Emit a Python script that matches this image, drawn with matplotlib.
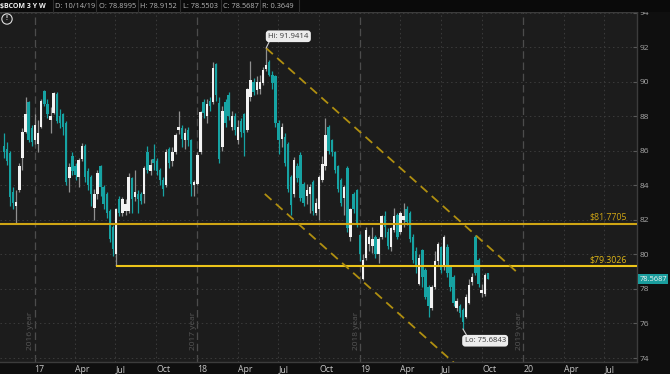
import matplotlib
matplotlib.use("Agg")
import matplotlib.pyplot as plt
import matplotlib.dates as mdates
import matplotlib.transforms as mtransforms
import pandas as pd
import numpy as np

plt.rcParams['font.family'] = ['Open Sans', 'DejaVu Sans']

# ---------------- data (weekly $BCOM candles) ----------------
first_week = '2016-10-24'
opens = [86.3, 86.1, 85.85, 83.6, 82.8, 83.7, 85.6, 87.1, 88.8, 87.3,
         86.6, 86.4, 87.4, 89.45, 88.7, 87.8, 88.2, 89.3, 88.0, 88.1,
         87.6, 84.4, 85.7, 85.1, 84.5, 85.5, 86.3, 84.8, 84.5, 82.7,
         83.5, 85.1, 83.9, 83.5, 82.5, 81.6, 80.0, 83.2, 82.4, 82.5,
         82.5, 84.4, 83.3, 83.5, 83.5, 83.5, 85.9, 84.8, 85.5, 85.4,
         84.9, 84.3, 84.0, 86.1, 85.4, 85.95, 87.2, 87.3, 86.6, 87.2,
         86.6, 84.0, 84.1, 85.95, 88.8, 88.0, 88.9, 88.8, 91.0, 88.75,
         86.2, 88.8, 89.2, 87.4, 88.0, 86.6, 87.7, 88.1, 87.2, 89.1,
         90.0, 89.5, 89.6, 89.9, 90.75, 91.15, 90.4, 90.3, 87.6, 86.7,
         86.8, 86.4, 84.5, 83.5, 85.1, 85.75, 84.1, 83.4, 83.5, 84.2,
         82.4, 82.6, 84.3, 85.1, 87.4, 86.6, 85.9, 85.1, 84.3, 83.25,
         85.0, 81.0, 83.5, 83.7, 81.1, 78.6, 79.8, 80.6, 80.5, 81.0,
         80.0, 81.0, 82.2, 81.3, 80.4, 81.4, 82.3, 81.3, 82.0, 82.6,
         82.4, 81.0, 80.2, 78.3, 80.25, 79.1, 78.1, 76.9, 78.1, 79.6,
         80.4, 79.3, 80.45, 79.3, 78.7, 76.9, 77.0, 76.8, 76.4, 77.2,
         78.4, 81.0, 79.65, 77.75, 77.7, 78.8995]
highs = [87.0, 86.5, 86.0, 83.9, 83.7, 85.3, 87.3, 89.1, 88.9, 87.5,
         88.1, 87.8, 89.0, 89.5, 89.0, 88.55, 89.4, 89.4, 88.4, 88.2,
         87.7, 85.3, 85.9, 85.3, 85.6, 86.45, 86.4, 85.0, 84.6, 83.8,
         84.9, 85.2, 84.0, 83.6, 82.6, 81.7, 82.7, 83.4, 83.3, 83.2,
         84.7, 84.5, 84.9, 83.7, 83.6, 85.1, 86.3, 85.5, 86.4, 85.6,
         85.0, 84.5, 86.1, 86.2, 86.2, 87.0, 88.3, 87.5, 87.3, 87.4,
         86.7, 84.3, 85.9, 88.3, 89.0, 89.0, 89.1, 91.15, 91.1, 89.1,
         88.6, 89.0, 89.4, 88.3, 88.2, 87.8, 87.9, 88.2, 89.65, 91.2,
         90.2, 90.3, 90.4, 90.85, 91.9414, 91.25, 90.6, 90.4, 87.8, 87.6,
         87.0, 86.5, 84.6, 85.65, 85.3, 85.9, 84.2, 84.1, 84.1, 84.3,
         83.25, 84.6, 85.7, 87.9, 87.5, 86.7, 86.0, 85.2, 84.4, 84.0,
         85.1, 82.7, 83.6, 83.8, 81.2, 80.0, 81.6, 81.1, 81.6, 81.1,
         81.0, 82.3, 82.5, 81.5, 81.6, 82.7, 82.4, 82.5, 83.0, 82.8,
         82.5, 81.2, 80.4, 80.0, 80.3, 79.2, 78.2, 78.2, 80.2, 80.7,
         80.5, 81.1, 80.6, 79.4, 78.8, 77.5, 77.1, 76.9, 77.7, 78.6,
         78.9, 81.1, 79.8, 78.3, 78.9, 78.9152]
lows = [85.6, 85.2, 82.8, 82.6, 81.8, 83.6, 84.9, 87.0, 86.5, 86.3,
        86.4, 85.9, 87.3, 88.6, 87.9, 87.0, 88.1, 87.6, 87.3, 86.9,
        84.0, 83.6, 84.6, 84.3, 83.9, 85.4, 84.2, 83.7, 82.8, 82.0,
        83.2, 83.4, 82.6, 82.1, 80.7, 79.9, 79.3026, 82.2, 82.2, 82.3,
        82.4, 82.4, 83.1, 82.4, 82.9, 82.95, 84.7, 84.6, 84.9, 84.6,
        84.0, 83.4, 83.9, 85.0, 85.1, 85.8, 86.95, 86.2, 86.1, 86.3,
        83.4, 83.4, 84.0, 85.8, 87.9, 87.6, 88.3, 88.7, 88.9, 85.3,
        86.0, 87.4, 87.8, 87.2, 86.9, 86.4, 86.8, 85.7, 87.1, 88.9,
        89.2, 89.3, 89.3, 89.8, 90.6, 90.3, 89.6, 87.4, 85.8, 86.2,
        85.1, 83.6, 82.3, 83.3, 84.2, 83.1, 82.8, 82.9, 82.4, 82.3,
        82.3, 82.0, 84.2, 84.9, 85.8, 85.7, 84.7, 83.6, 82.8, 82.3,
        81.3, 80.8, 82.4, 81.6, 79.6, 78.5, 79.7, 80.2, 80.1, 79.8,
        79.5, 80.9, 81.0, 80.3, 80.2, 81.3, 80.9, 81.2, 81.6, 81.7,
        80.7, 79.5, 78.9, 78.2, 78.1, 77.4, 76.4, 76.8, 78.0, 79.4,
        78.9, 79.1, 78.7, 77.9, 77.0, 76.7, 76.4, 75.6843, 76.3, 77.1,
        78.2, 78.8, 78.1, 77.55, 77.6, 78.5503]
closes = [85.95, 85.4, 83.35, 82.95, 83.05, 85.1, 87.1, 88.15, 86.6, 86.5,
          87.5, 87.0, 88.9, 88.7, 88.1, 88.0, 89.35, 87.7, 87.6, 87.4,
          84.2, 85.05, 84.8, 84.6, 85.45, 86.3, 84.5, 84.0, 83.5, 83.5,
          84.7, 83.9, 82.9, 82.4, 80.9, 80.3, 82.6, 82.4, 83.2, 82.9,
          84.5, 83.2, 83.6, 83.2, 83.1, 85.0, 84.9, 85.2, 85.3, 84.8,
          84.3, 83.8, 85.95, 85.3, 85.9, 86.9, 87.4, 86.7, 87.0, 86.6,
          84.1, 84.2, 85.75, 88.25, 88.2, 88.7, 88.6, 90.8, 89.2, 85.5,
          88.3, 87.6, 88.0, 88.0, 87.2, 87.4, 87.1, 87.0, 89.6, 90.1,
          89.4, 90.0, 90.0, 90.65, 90.95, 90.4, 89.9, 87.6, 86.6, 87.4,
          85.3, 83.8, 82.85, 85.45, 84.4, 83.25, 82.95, 83.7, 83.9, 82.5,
          83.0, 84.5, 85.25, 86.9, 86.0, 85.9, 84.9, 83.8, 82.95, 83.9,
          81.5, 82.6, 82.6, 81.8, 80.0, 79.7, 81.4, 81.0, 80.9, 80.0,
          80.9, 82.2, 81.6, 80.5, 81.5, 82.2, 81.0, 82.4, 82.2, 81.9,
          80.9, 79.7, 79.3, 79.8, 78.7, 77.55, 77.0, 78.1, 79.6, 80.6,
          79.1, 81.0, 78.9, 78.1, 77.2, 77.3, 76.6, 76.1, 77.55, 78.2,
          78.7, 78.9, 78.3, 77.95, 78.8, 78.5687]

hi_index, lo_index = 84, 147
hi_value, lo_value = 91.9414, 75.6843
support_level = 81.7705
support2_level = 79.3026
support2_start = 36
channel_upper_dates = ['2018-06-04', '2019-12-23']
channel_upper_prices = [91.94, 78.86]
channel_lower_dates = ['2018-06-01', '2019-08-12']
channel_lower_prices = [83.5, 73.42]
last_price = 78.5687
y_ticks = [74, 76, 78, 80, 82, 84, 86, 88, 90, 92, 94]
month_ticks = ['2017-01-01', '2017-04-01', '2017-07-01', '2017-10-01',
               '2018-01-01', '2018-04-01', '2018-07-01', '2018-10-01',
               '2019-01-01', '2019-04-01', '2019-07-01', '2019-10-01',
               '2020-01-01', '2020-04-01', '2020-07-01']
month_labels = ['17', 'Apr', 'Jul', 'Oct', '18', 'Apr', 'Jul', 'Oct',
                '19', 'Apr', 'Jul', 'Oct', '20', 'Apr', 'Jul']
year_lines = ['2017-01-01', '2018-01-01', '2019-01-01', '2020-01-01']
year_labels = ['2016 year', '2017 year', '2018 year', '2019 year']
header_title = '$BCOM 3 Y W'
header_fields = ['D: 10/14/19', 'O: 78.8995', 'H: 78.9152', 'L: 78.5503',
                 'C: 78.5687', 'R: 0.3649']

# ---------------- figure ----------------
W, H = 670, 374
fig = plt.figure(figsize=(W / 100, H / 100), dpi=100, facecolor='#0f0f0f')
ax = fig.add_axes([0, 1 - 362 / H, 637 / W, 350 / H])
ax.set_facecolor('#1c1c1c')

def fx(px):
    return px / W

def fy(py):
    return 1 - py / H

dates = pd.date_range(first_week, periods=len(opens), freq='W-MON')
x = mdates.date2num(dates)
o = np.array(opens); h = np.array(highs); l = np.array(lows); c = np.array(closes)
up = c >= o
teal = '#16a3a3'
body_col = np.where(up, '#f2f2f2', teal)
wick_col = np.where(up, '#909090', teal)

ax.vlines(x, l, h, colors=list(wick_col), lw=0.9, zorder=3)
bottoms = np.minimum(o, c)
heights = np.maximum(np.abs(c - o), 0.07)
ax.bar(x, heights, bottom=bottoms, width=5.4, color=list(body_col), lw=0, zorder=4)

# axes limits
ppd = 163 / 365.25
ref = mdates.date2num(pd.Timestamp('2017-01-01'))
ax.set_xlim(ref - 34.5 / ppd, ref + (637 - 34.5) / ppd)
ax.set_ylim(73.77, 94.03)

# grid
for d in month_ticks:
    if d not in year_lines:
        ax.axvline(mdates.date2num(pd.Timestamp(d)), color='#3b3b3b', lw=0.7,
                   linestyle=(0, (1.5, 3)), zorder=1)
for d in year_lines:
    ax.axvline(mdates.date2num(pd.Timestamp(d)), color='#4c4c4c', lw=0.9,
               linestyle=(0, (6, 3)), zorder=1)
for yv in y_ticks:
    ax.axhline(yv, color='#3b3b3b', lw=0.7, linestyle=(0, (1.5, 3)), zorder=1)

# year labels
blend = mtransforms.blended_transform_factory(ax.transData, ax.transAxes)
for d, lab in zip(year_lines, year_labels):
    xd = mdates.date2num(pd.Timestamp(d)) - 4 / ppd
    ax.text(xd, 0.034, lab, transform=blend, rotation=90, ha='center',
            va='bottom', fontsize=6, color='#575757', zorder=2)

# ticks
ax.yaxis.tick_right()
ax.set_yticks(y_ticks)
ax.set_yticklabels([str(v) for v in y_ticks])
ax.tick_params(axis='y', direction='in', length=3, pad=2, colors='#5a5a5a',
               labelcolor='#a8a8a8', labelsize=6)
ax.set_xticks([mdates.date2num(pd.Timestamp(d)) for d in month_ticks])
ax.set_xticklabels(month_labels)
ax.tick_params(axis='x', length=0, pad=2.5, labelcolor='#c8c8c8', labelsize=6.3)
for t in ax.get_xticklabels():
    t.set_ha('left')
ax.spines['left'].set_visible(False)
for side in ['top', 'bottom', 'right']:
    ax.spines[side].set_color('#3c3c3c')
    ax.spines[side].set_linewidth(1)

# horizontal levels
ax.axhline(support_level, color='#cfa514', lw=1.5, zorder=5)
ax.hlines(support2_level, x[support2_start], ax.get_xlim()[1], color='#ecc41a',
          lw=1.5, zorder=5)
blend_ay = mtransforms.blended_transform_factory(ax.transAxes, ax.transData)
ax.annotate('$81.7705', xy=(0.984, support_level), xycoords=blend_ay,
            xytext=(0, 1.5), textcoords='offset points', ha='right', va='bottom',
            fontsize=6.3, color='#cfa514', zorder=6)
ax.annotate('$79.3026', xy=(0.984, support2_level), xycoords=blend_ay,
            xytext=(0, 1.5), textcoords='offset points', ha='right', va='bottom',
            fontsize=6.3, color='#e0b818', zorder=6)

# channel
ax.plot(mdates.date2num(pd.to_datetime(channel_upper_dates)), channel_upper_prices,
        color='#b08f10', lw=1.3, dashes=(5, 3.2), zorder=5)
ax.plot(mdates.date2num(pd.to_datetime(channel_lower_dates)), channel_lower_prices,
        color='#b08f10', lw=1.3, dashes=(5, 3.2), zorder=5)

# callouts
ax.annotate('Hi: 91.9414', xy=(x[hi_index], hi_value), xytext=(16, 8.5),
            textcoords='offset points', ha='center', va='center', fontsize=5.6,
            color='#3a3a3a', zorder=8,
            bbox=dict(boxstyle='round,pad=0.3,rounding_size=0.4', fc='#ececec', ec='none'),
            arrowprops=dict(arrowstyle='-', color='#d0d0d0', lw=0.8,
                            shrinkA=0, shrinkB=0, relpos=(0.05, 0.0)))
ax.annotate('Lo: 75.6843', xy=(x[lo_index], lo_value), xytext=(16, -8.5),
            textcoords='offset points', ha='center', va='center', fontsize=5.6,
            color='#3a3a3a', zorder=8,
            bbox=dict(boxstyle='round,pad=0.3,rounding_size=0.4', fc='#ececec', ec='none'),
            arrowprops=dict(arrowstyle='-', color='#d0d0d0', lw=0.8,
                            shrinkA=0, shrinkB=0, relpos=(0.08, 1.0)))

# last price tag
ax.annotate('78.5687', xy=(1.0, last_price), xycoords=blend_ay, xytext=(1.8, 0),
            textcoords='offset points', ha='left', va='center', fontsize=5.4,
            color='#f4f4f4', annotation_clip=False, zorder=9,
            bbox=dict(boxstyle='square,pad=0.15', fc='#1a9d9d', ec='none'))

# header bar
fig.patches.append(plt.Rectangle((0, fy(12)), 1, 12 / H, transform=fig.transFigure,
                                 facecolor='#0a0a0a', edgecolor='none', zorder=0))
fig.text(fx(0.5), fy(6.5), header_title, fontsize=5.0, fontweight='bold',
         color='#f2f2f2', va='center', ha='left')
field_x = [55, 99, 140, 183, 223, 262]
sep_x = [52.5, 96.5, 137.5, 180.5, 220.5, 259.5, 298.5]
for fxp, txt in zip(field_x, header_fields):
    fig.text(fx(fxp), fy(6.5), txt, fontsize=5.3, color='#b5b5b5', va='center', ha='left')
for sx in sep_x:
    fig.add_artist(plt.Line2D([fx(sx), fx(sx)], [fy(0), fy(12)], color='#2e2e2e',
                              lw=0.8, transform=fig.transFigure))

# info icon
fig.text(fx(7), fy(19), '!', fontsize=4.8, color='#dddddd', ha='center', va='center',
         fontweight='bold',
         bbox=dict(boxstyle='circle,pad=0.25', fc='none', ec='#dddddd', lw=0.8))

fig.savefig('out.png', dpi=100, facecolor=fig.get_facecolor())
